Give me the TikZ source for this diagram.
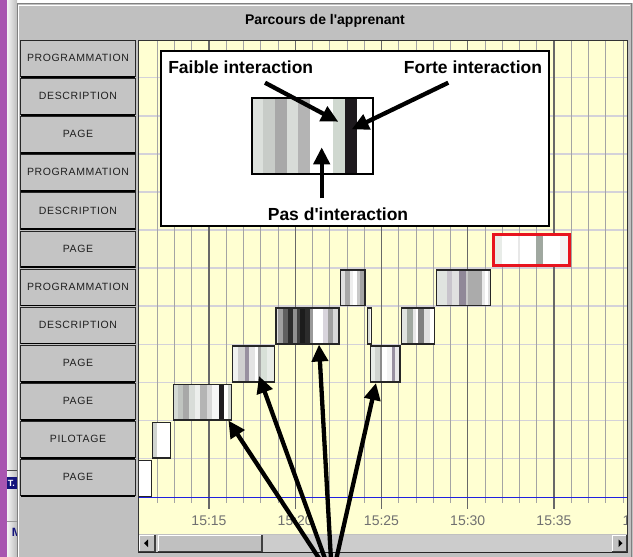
\documentclass[tikz,border=0pt]{standalone}
\usepackage{fontspec}
\setmainfont{Liberation Sans}
\newfontfamily\lblfont[LetterSpace=6]{Liberation Sans}
\newfontfamily\pfont{Liberation Sans}
\usetikzlibrary{arrows.meta}
\definecolor{wingray}{HTML}{C0C0C0}
\definecolor{lblgray}{HTML}{C4C4C4}
\definecolor{chartyellow}{HTML}{FFFFD2}
\definecolor{hgrid}{HTML}{D4D2D9}
\definecolor{vminor}{HTML}{A4A4A4}
\definecolor{vmajor}{HTML}{686868}
\definecolor{axisblue}{HTML}{2020E0}
\definecolor{purplebar}{HTML}{A855B0}
\definecolor{navyblk}{HTML}{14147C}
\definecolor{axislbl}{HTML}{707070}
\definecolor{redsel}{HTML}{E8141E}
\newcommand\stripeblk[3]{%
  \foreach \xa/\xb/\cc in {#3}{%
    \edef\tmpdef{\noexpand\definecolor{tmpc}{HTML}{\cc}}\tmpdef
    \fill[tmpc] (\xa,#1) rectangle (\xb,#2);}}
\begin{document}
\begin{tikzpicture}[x=1pt,y=-1pt,
  lbltext/.style={font=\lblfont\fontsize{10.5}{10.5}\selectfont, text=black!88, inner sep=0},
  blkborder/.style={draw=black!85, line width=1.4},
  bigarrow/.style={line width=4.3, -{Triangle[length=17pt,width=16pt]}},
  insettext/.style={font=\pfont\bfseries\fontsize{17.5}{17.5}\selectfont, inner sep=0},
  axistext/.style={font=\fontsize{14}{14}\selectfont, text=axislbl, inner sep=0}]
\useasboundingbox (0,0) rectangle (633,557);
\clip (0,0) rectangle (633,557);
% background window fragments at left
\fill[purplebar] (0,0) rectangle (7.3,557);
\shade[left color=white!95!black, right color=white!74!black] (7.3,0) rectangle (17,557);
\draw[black!70, line width=1] (7.3,470.7) -- (17,470.7);
\fill[navyblk] (7.3,476.5) rectangle (17,489);
\node[text=white, font=\bfseries\fontsize{9}{9}\selectfont, anchor=west, inner sep=0] (tlbl) at (7.6,483) {T.};
\draw[white!60!black, line width=0.8] (7.3,521) -- (17,521);
\node[text=navyblk, font=\bfseries\fontsize{12}{12}\selectfont, anchor=west, inner sep=0] (mlbl) at (11.8,532) {M};
% window
\fill[wingray] (17,3) rectangle (633,557);
\draw[white!50!black, line width=1] (17,3) -- (17,557);
\draw[white!50!black, line width=1] (17,3) -- (631.5,3) -- (631.5,557);
\draw[white, line width=1] (18.5,5) -- (629.5,5);
\draw[white, line width=1] (18.5,5) -- (18.5,557);
\node[font=\pfont\bfseries\fontsize{14}{14}\selectfont] (title) at (325,21) {Parcours de l'apprenant};
% row labels
\foreach \lab [count=\k from 0] in {PROGRAMMATION,DESCRIPTION,PAGE,PROGRAMMATION,DESCRIPTION,PAGE,PROGRAMMATION,DESCRIPTION,PAGE,PAGE,PILOTAGE,PAGE}{
  \pgfmathsetmacro\yt{39.5+38.1*\k+1}
  \pgfmathsetmacro\yb{39.5+38.1*(\k+1)-0.8}
  \fill[lblgray] (20.7,\yt) rectangle (135.3,\yb);
  \draw[black!85, line width=0.9] (20.7,\yt) rectangle (135.3,\yb);
  \draw[black, line width=1.8] (20.7,\yb) -- (135.3,\yb);
  \node[lbltext] (lab\k) at (78,{(\yt+\yb)/2-0.6}) {\lab};
}
% chart area
\fill[chartyellow] (138,40) rectangle (627,534);
\begin{scope}
\clip (138,40) rectangle (627,534);
\foreach \k in {1,...,11}{
  \draw[hgrid, line width=1.6] (138,{39.5+38.1*\k}) -- (627,{39.5+38.1*\k});
}
\foreach \k in {-3,...,24}{
  \pgfmathsetmacro\xx{209+17.25*\k}
  \pgfmathtruncatemacro\mm{mod(\k+100,5)}
  \ifnum\mm=0
    \draw[vmajor, line width=1.2] (\xx,40) -- (\xx,509);
  \else
    \draw[vminor, line width=1] (\xx,40) -- (\xx,503);
  \fi
}
\draw[axisblue, line width=1] (138,497.5) -- (627,497.5);
\foreach \t [count=\j from 0] in {15:15,15:20,15:25,15:30,15:35,15:40}{
  \node[axistext] (ax\j) at ({209+86.25*\j},521) {\t};
}
% activity blocks
\stripeblk{460.4}{496.2}{138.3/151.7/FFFFFF}
\draw[blkborder] (138.3,460.4) rectangle (151.7,496.2);
\stripeblk{422.3}{458.1}{152.7/156.7/D0D4D0, 156.7/170.7/FFFFFF}
\draw[blkborder] (152.7,422.3) rectangle (170.7,458.1);
\stripeblk{384.2}{420}{173.3/178/D4DAD4, 178/183/C0C4C0, 183/189/A8A8A8, 189/195/D8DCD8, 195/200/ECEEEC, 200/207/B4B4B4, 207/212/D8D8D8, 212/219.3/F6F6F6, 219.3/224/1E1C20, 224/228/FFFFFF, 228/231.7/D0D4D0}
\draw[blkborder] (173.3,384.2) rectangle (231.7,420);
\stripeblk{346.1}{381.9}{232.7/238.3/F0F2F0, 238.3/245/D0D0D0, 245/249.3/9890A0, 249.3/255/E4E4E4, 255/258.3/FFFFFF, 258.3/261/A8A8A8, 261/266.7/D8E0D8, 266.7/274.3/E8ECE8}
\draw[blkborder] (232.7,346.1) rectangle (274.3,381.9);
\stripeblk{308}{343.8}{276/278.3/E0E0E0, 278.3/283.3/A0A0A0, 283.3/288.3/606060, 288.3/293.3/2C2C2C, 293.3/296.7/909090, 296.7/300/404040, 300/305/1C1C1C, 305/310/2C2C2C, 310/313.3/9A9A9A, 313.3/323.3/FFFFFF, 323.3/328.3/D8D4DC, 328.3/333.3/A0A0A0, 333.3/339/D8D8D8}
\draw[blkborder] (276,308) rectangle (339,343.8);
\stripeblk{269.9}{305.7}{340.7/345/E0E0E0, 345/350/A8A8A8, 350/353.3/EEEEEE, 353.3/356.7/FFFFFF, 356.7/360/C8C8C8, 360/365/A4A4A4}
\draw[blkborder] (340.7,269.9) rectangle (365,305.7);
\stripeblk{308}{343.8}{367.3/369.5/D8DCD8, 369.5/371.7/F4F4F4}
\draw[blkborder] (367.3,308) rectangle (371.7,343.8);
\stripeblk{346.1}{381.9}{370.7/375/E8ECE8, 375/380/D0D4D0, 380/382.3/8C8C8C, 382.3/386.7/FFFFFF, 386.7/391.7/F4F4F4, 391.7/395/9890A0, 395/400/E8E8E8}
\draw[blkborder] (370.7,346.1) rectangle (400,381.9);
\stripeblk{308}{343.8}{401.3/406.7/E0E4E0, 406.7/413.3/A0A8A0, 413.3/416/E8E8E8, 416/418.3/FFFFFF, 418.3/424/808080, 424/430/E0E0E0, 430/434.3/FFFFFF}
\draw[blkborder] (401.3,308) rectangle (434.3,343.8);
\stripeblk{269.9}{305.7}{436.7/447.3/E0E4E0, 447.3/451.7/C8C4CC, 451.7/459.3/E0E0E0, 459.3/466/908898, 466/468.3/C8C8C8, 468.3/481.7/ABABAB, 481.7/485/EAEAEA, 485/488.3/FFFFFF, 488.3/490.7/E0E0E0}
\draw[blkborder] (436.7,269.9) rectangle (490.7,305.7);
\stripeblk{234.2}{265.2}{493.8/501.7/E8ECE8, 501.7/518/FFFFFF, 518/520/E8E8E8, 520/536/FFFFFF, 536/543.3/A0A8A0, 543.3/560/FFFFFF, 560/569.2/F4F4F4}
\draw[redsel, line width=3] (493.8,234.2) rectangle (569.2,265.2);
\end{scope}
% chart frame
\draw[black!80, line width=1] (138,553) -- (138,40) -- (627,40) -- (627,553);
% scrollbar
\fill[white!80!black] (138.5,534.5) rectangle (626.5,552);
\draw[black!85, line width=1] (138.5,552.5) -- (626.5,552.5);
\fill[wingray] (139,535) rectangle (155,551.5);
\draw[white, line width=1] (139.5,551) -- (139.5,535.5) -- (154.5,535.5);
\draw[black!75, line width=1.2] (139,551.5) -- (155,551.5) -- (155,535);
\fill[black] (144,543.2) -- (148,539.5) -- (148,547) -- cycle;
\fill[wingray] (157.5,535) rectangle (262,551.5);
\draw[white, line width=1] (158,551) -- (158,535.5) -- (261.5,535.5);
\draw[black!75, line width=1.5] (157.5,551.5) -- (262,551.5) -- (262,535);
\fill[wingray] (612,535) rectangle (626.5,551.5);
\draw[white, line width=1] (612.5,551) -- (612.5,535.5) -- (626,535.5);
\draw[black!75, line width=1.2] (612,551.5) -- (626.5,551.5) -- (626.5,535);
\fill[black] (622.5,543.2) -- (618.5,539.5) -- (618.5,547) -- cycle;
% legend inset
\draw[fill=white, draw=black, line width=2] (161,51) rectangle (549,225.7);
\stripeblk{98.3}{174.3}{251.7/263.3/DCE0DC, 263.3/275/C8CCC8, 275/286.7/A8A8A8, 286.7/298.3/D8DCD8, 298.3/310/B4B4B4, 310/333.3/FFFFFF, 333.3/345/D0D8D0, 345/356.7/1E1A1E, 356.7/372.7/FFFFFF}
\draw[black, line width=2] (251.7,98.3) rectangle (372.7,174.3);
\node[insettext] (faible) at (240.7,67.5) {Faible interaction};
\node[insettext] (forte) at (473,67.5) {Forte interaction};
\node[insettext] (pas) at (338,214) {Pas d'interaction};
\coordinate (faibleS) at (265,82.7);
\coordinate (faibleT) at (338.3,121.7);
\coordinate (forteS) at (448.3,82.7);
\coordinate (forteT) at (351.7,129.3);
\coordinate (pasS) at (321.7,198.3);
\coordinate (pasT) at (321.7,147.3);
\draw[bigarrow] (faibleS) -- (faibleT);
\draw[bigarrow] (forteS) -- (forteT);
\draw[bigarrow] (pasS) -- (pasT);
% pointers to blocks
\coordinate (src) at (332,578);
\coordinate (tipA) at (228.4,420.5);
\coordinate (tipB) at (259,376);
\coordinate (tipC) at (319,344.5);
\coordinate (tipD) at (376,383);
\draw[bigarrow] (src) -- (tipA);
\draw[bigarrow] (src) -- (tipB);
\draw[bigarrow] (src) -- (tipC);
\draw[bigarrow] (src) -- (tipD);
\end{tikzpicture}
\end{document}
